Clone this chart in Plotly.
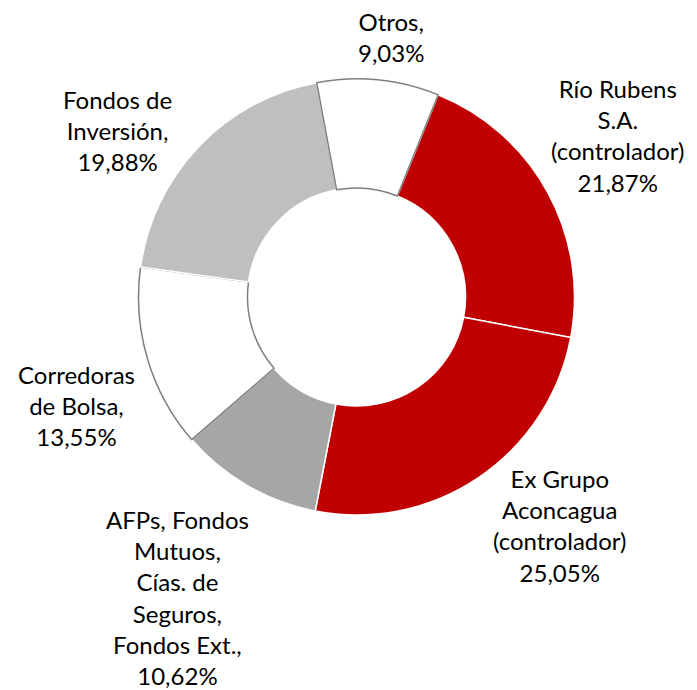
import math
import plotly.graph_objects as go

labels = ["Río Rubens<br>S.A.<br>(controlador)", "Ex Grupo<br>Aconcagua<br>(controlador)",
          "AFPs, Fondos<br>Mutuos,<br>Cías. de<br>Seguros,<br>Fondos Ext.,", "Corredoras<br>de Bolsa,",
          "Fondos de<br>Inversión,", "Otros,"]
values = [21.87, 25.05, 10.62, 13.55, 19.88, 9.03]
pct_text = ["21,87%", "25,05%", "10,62%", "13,55%", "19,88%", "9,03%"]
colors = ["#C00000", "#C00000", "#A6A6A6", "#FFFFFF", "#BFBFBF", "#FFFFFF"]
line_colors = ["#FFFFFF", "#FFFFFF", "#FFFFFF", "#7F7F7F", "#FFFFFF", "#7F7F7F"]

# label placement (layout only): angular offset from slice middle (deg), distance from centre (px)
label_dtheta = [-3.0, -7.4, 0.7, -4.8, -8.8, 1.9]
label_dist = [307.5, 306.0, 350.0, 300.5, 291.6, 262.3]

W, H = 697, 690
cx, cy, R = 356.5, 297.0, 218.0
rotation = 22.0

fig = go.Figure(go.Pie(
    values=values, labels=labels, sort=False, direction="clockwise", rotation=rotation,
    hole=0.5, textinfo="none", hoverinfo="label+value",
    marker=dict(colors=colors, line=dict(color=line_colors, width=1.5)),
    domain=dict(x=[(cx - R) / W, (cx + R) / W], y=[(H - cy - R) / H, (H - cy + R) / H]),
    showlegend=False,
))

total = sum(values)
cum = 0.0
annotations = []
for i, v in enumerate(values):
    mid = rotation + (cum + v / 2) / total * 360.0
    cum += v
    th = math.radians(mid + label_dtheta[i])
    xp = cx + label_dist[i] * math.sin(th)
    yp = cy - label_dist[i] * math.cos(th)
    annotations.append(dict(
        x=xp / W, y=1 - yp / H, xref="paper", yref="paper",
        text=labels[i] + "<br>" + pct_text[i], showarrow=False,
        xanchor="center", yanchor="middle", align="center",
        font=dict(family="Lato", size=24, color="#000000"),
    ))

fig.update_layout(
    width=W, height=H, margin=dict(l=0, r=0, t=0, b=0),
    paper_bgcolor="white", plot_bgcolor="white",
    annotations=annotations,
)
fig.write_html("out.html", config={"displayModeBar": False},
               post_script="document.body.style.margin='0';document.body.style.overflow='hidden';")
